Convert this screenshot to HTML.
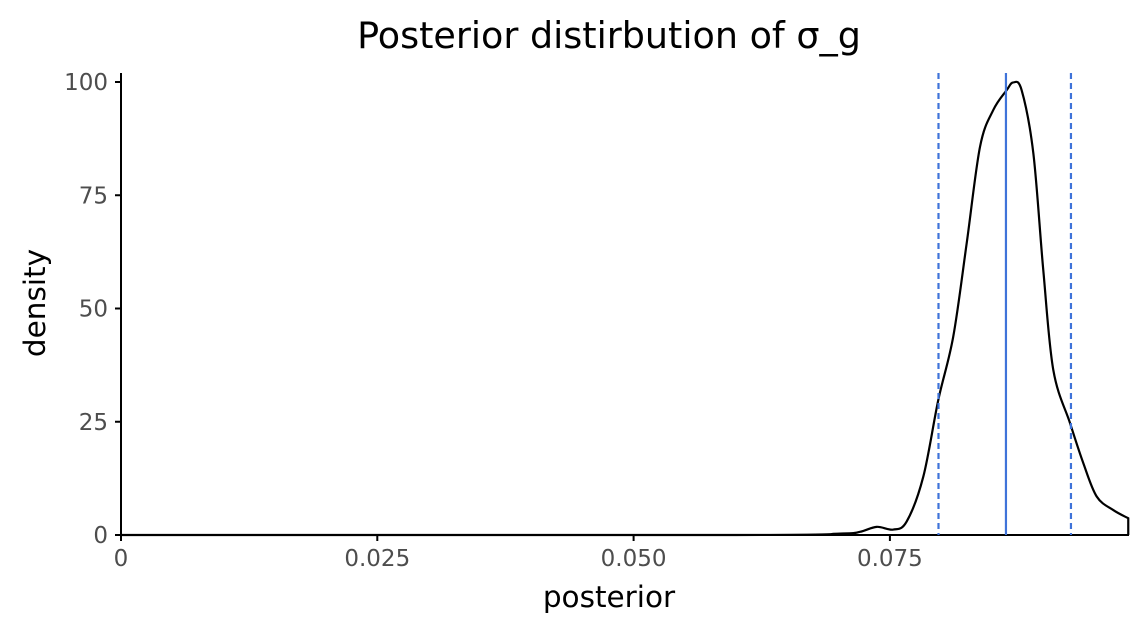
<!DOCTYPE html>
<html><head><meta charset="utf-8"><style>
body{margin:0;background:#fff;font-family:"DejaVu Sans","Liberation Sans",sans-serif;}
text{font-family:"DejaVu Sans","Liberation Sans",sans-serif;}
</style></head><body>
<svg id="chart" width="1148" height="634" xmlns="http://www.w3.org/2000/svg">
<text x="609" y="48" font-size="36.5" text-anchor="middle" fill="#000">Posterior distirbution of σ_g</text>
<text x="609" y="607" font-size="29.5" text-anchor="middle" fill="#000">posterior</text>
<text transform="translate(45,303) rotate(-90)" font-size="29.5" text-anchor="middle" fill="#000">density</text>
<g id="plot"></g>
</svg>
<script>
const xs=[0,0.06,0.07013,0.07208,0.07371,0.07533,0.07664,0.07826,0.07972,0.08118,0.08249,0.08379,0.08508,0.08639,0.08703,0.08785,0.08899,0.08996,0.09094,0.09257,0.09386,0.09517,0.09679,0.09825];
const ys=[0,0,0.3,0.7,1.8,1.2,3.0,12.9,29.8,43.8,64.4,85.7,93.8,98.2,99.9,98.2,84.3,58.5,36.4,24.7,15.9,8.5,5.5,3.7];
const xTicks=[0,0.025,0.05,0.075];
const xTickLabels=["0","0.025","0.050","0.075"];
const yTicks=[0,25,50,75,100];
const intervalLines=[0.07974,0.09266];
const medianLine=[0.08632];
const X0=121,X1=1129,Y0=535,Y1=73;
const sx=v=>X0+v*10252;
const sy=v=>Y0-v*4.53;
const g=document.getElementById('plot');
const NS="http://www.w3.org/2000/svg";
function mk(t,a){const e=document.createElementNS(NS,t);for(const k in a)e.setAttribute(k,a[k]);g.appendChild(e);return e;}
let e=mk('line',{x1:X0,y1:Y1,x2:X0,y2:Y0+1,stroke:'#000','stroke-width':2});


e=mk('line',{x1:X0-1,y1:Y0,x2:X1,y2:Y0,stroke:'#000','stroke-width':2});


xTicks.forEach((t,i)=>{
 const l=mk('line',{x1:sx(t),y1:Y0,x2:sx(t),y2:Y0+6,stroke:'#000','stroke-width':2});
 
 
 const tx=mk('text',{x:sx(t),y:Y0+31,'font-size':23,'text-anchor':'middle',fill:'#4d4d4d'});
 tx.textContent=xTickLabels[i];
 
 
});
yTicks.forEach(t=>{
 const l=mk('line',{x1:X0-6,y1:sy(t),x2:X0,y2:sy(t),stroke:'#000','stroke-width':2});
 
 
 const tx=mk('text',{x:X0-13,y:sy(t)+8,'font-size':23,'text-anchor':'end',fill:'#4d4d4d'});
 tx.textContent=String(t);
 
 
});
const P=xs.map((x,i)=>[sx(x),sy(ys[i])]);
let d=`M${P[0][0]},${P[0][1]}`;
for(let i=0;i<P.length-1;i++){
 const p0=P[Math.max(0,i-1)],p1=P[i],p2=P[i+1],p3=P[Math.min(P.length-1,i+2)];
 const c1=[p1[0]+(p2[0]-p0[0])/6,p1[1]+(p2[1]-p0[1])/6];
 const c2=[p2[0]-(p3[0]-p1[0])/6,p2[1]-(p3[1]-p1[1])/6];
 if(i===0){d+=` L${p2[0]},${p2[1]}`;continue;}
 d+=` C${c1[0]},${c1[1]} ${c2[0]},${c2[1]} ${p2[0]},${p2[1]}`;
}
d+=` L${P[P.length-1][0]},${sy(0)}`;
e=mk('path',{d:d,fill:'none',stroke:'#000','stroke-width':2.2});


intervalLines.forEach(v=>{
 const l=mk('line',{x1:sx(v),y1:Y1,x2:sx(v),y2:Y0,stroke:'#3f73d9','stroke-width':2.2,'stroke-dasharray':'6,4'});
 
 
});
medianLine.forEach(v=>{
 const l=mk('line',{x1:sx(v),y1:Y1,x2:sx(v),y2:Y0,stroke:'#3f73d9','stroke-width':2.2});
 
 
});
</script>
</body></html>
